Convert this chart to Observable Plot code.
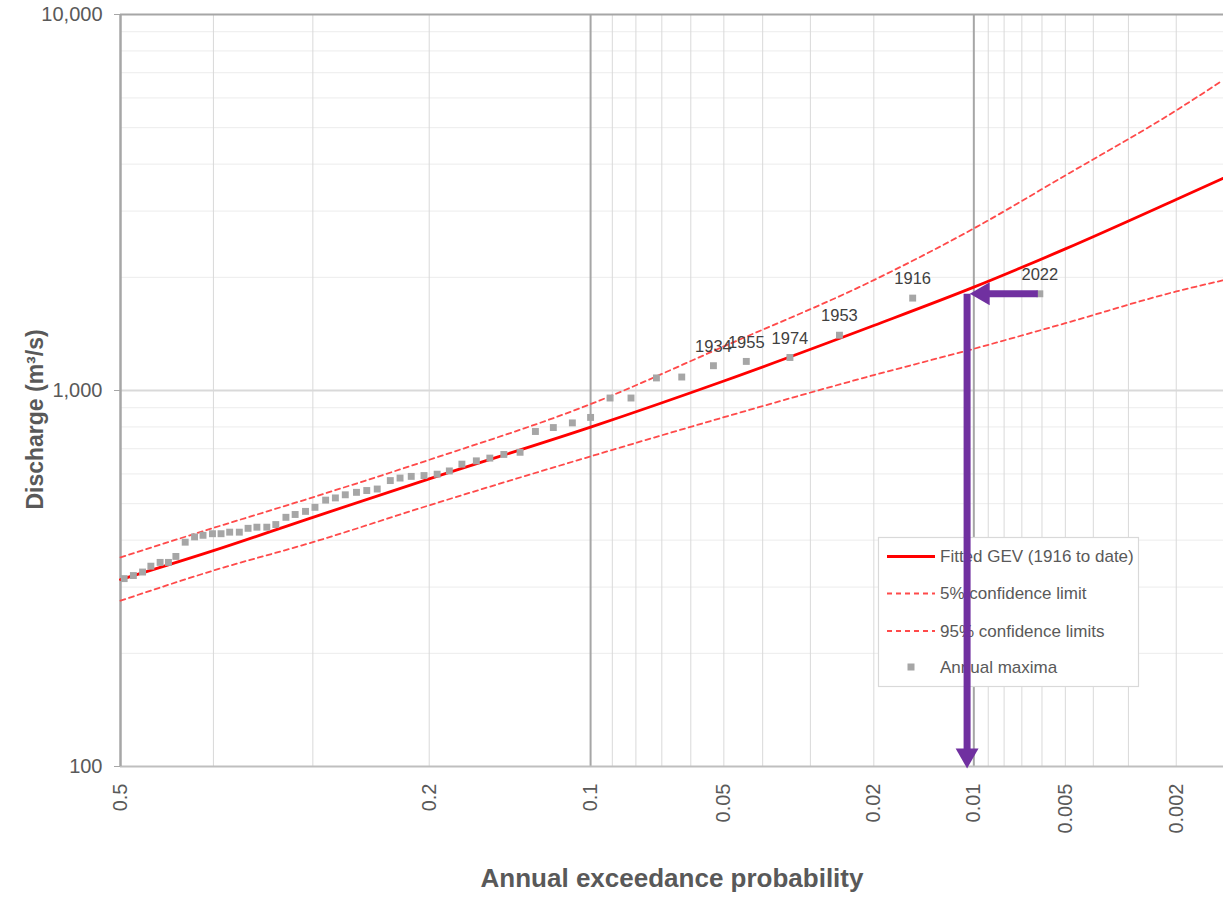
<!DOCTYPE html>
<html>
<head>
<meta charset="utf-8">
<script src="https://cdn.jsdelivr.net/npm/d3@7"></script>
<script src="https://cdn.jsdelivr.net/npm/@observablehq/plot@0.6"></script>
<style>
  html, body { margin: 0; padding: 0; background: #fff; }
  #chart { position: absolute; left: 0; top: 0; }
</style>
</head>
<body>
<div id="chart"></div>
<script>
// ---------- data ----------
// Annual maxima: annual exceedance probability (plotting position) and discharge (m3/s)
const aep = [0.496,0.486,0.476,0.467,0.457,0.448,0.440,0.430,0.420,0.411,0.401,0.392,0.383,0.373,0.364,0.355,0.345,0.336,0.326,0.317,0.307,0.298,0.288,0.279,0.270,0.260,0.251,0.242,0.231,0.223,0.214,0.204,0.194,0.185,0.176,0.166,0.157,0.148,0.138,0.129,0.119,0.109,0.100,0.091,0.082,0.072,0.063,0.053,0.044,0.034,0.025,0.0154,0.0061];
const discharge = [316,322,329,341,349,349,362,395,408,412,416,416,420,420,430,433,433,440,460,468,477,489,511,518,528,536,542,547,576,585,591,594,599,611,637,650,661,676,685,778,797,820,848,955,955,1080,1086,1164,1195,1224,1403,1761,1808];

// Labelled events (the six largest annual maxima, in plotting order)
const labelYears = ["1934","1955","1974","1953","1916","2022"];

// Fitted GEV and confidence limits
const curveAep   = [0.5, 0.4, 0.3, 0.2, 0.1, 0.05, 0.02, 0.01, 0.005, 0.002, 0.00133];
const fittedGEV  = [314, 375, 460, 582, 799, 1060, 1489, 1883, 2380, 3221, 3663];
const upper95    = [360, 431, 520, 654, 920, 1310, 1966, 2698, 3733, 5559, 6676];
const lower5     = [276, 332, 395, 495, 668, 849, 1099, 1291, 1510, 1834, 1962];

// Annotation arrows (AEP / discharge)
const arrowQ = 1808;        // discharge of 2022 event
const arrowFromAep = 0.0061;
const arrowToAep = 0.0103;
const dropAep = 0.0105;
const axisMinQ = 100;

// Axis ticks & grid
const xTickAep = [0.5, 0.2, 0.1, 0.05, 0.02, 0.01, 0.005, 0.002];
const xMinorAep = [0.4, 0.3, 0.2, 0.09, 0.08, 0.07, 0.06, 0.05, 0.04, 0.03, 0.02, 0.009, 0.008, 0.007, 0.006, 0.005, 0.004, 0.003, 0.002];
const xMajorAep = [0.1, 0.01];
const yTicks = [100, 1000, 10000];
const yMinor = [200,300,400,500,600,700,800,900,2000,3000,4000,5000,6000,7000,8000,9000];

const legendItems = ["Fitted GEV (1916 to date)", "5% confidence limit", "95% confidence limits", "Annual maxima"];

// ---------- normal probability axis ----------
function invNorm(p) {
  const a=[-3.969683028665376e+01,2.209460984245205e+02,-2.759285104469687e+02,1.383577518672690e+02,-3.066479806614716e+01,2.506628277459239e+00];
  const b=[-5.447609879822406e+01,1.615858368580409e+02,-1.556989798598866e+02,6.680131188771972e+01,-1.328068155288572e+01];
  const c=[-7.784894002430293e-03,-3.223964580411365e-01,-2.400758277161838e+00,-2.549732539343734e+00,4.374664141464968e+00,2.938163982698783e+00];
  const d=[7.784695709041462e-03,3.224671290700398e-01,2.445134137142996e+00,3.754408661907416e+00];
  const pl = 0.02425, ph = 1 - pl;
  let q, r;
  if (p < pl) { q = Math.sqrt(-2*Math.log(p)); return (((((c[0]*q+c[1])*q+c[2])*q+c[3])*q+c[4])*q+c[5])/((((d[0]*q+d[1])*q+d[2])*q+d[3])*q+1); }
  if (p <= ph) { q = p - 0.5; r = q*q; return (((((a[0]*r+a[1])*r+a[2])*r+a[3])*r+a[4])*r+a[5])*q/(((((b[0]*r+b[1])*r+b[2])*r+b[3])*r+b[4])*r+1); }
  q = Math.sqrt(-2*Math.log(1-p)); return -(((((c[0]*q+c[1])*q+c[2])*q+c[3])*q+c[4])*q+c[5])/((((d[0]*q+d[1])*q+d[2])*q+d[3])*q+1);
}
const zOf = p => -invNorm(p);   // standard normal variate of the non-exceedance probability

// ---------- tables ----------
const points = aep.map((p, i) => ({p, q: discharge[i]}));
const labelled = labelYears.map((year, i) => ({year, ...points[points.length - labelYears.length + i]}));
const curves = curveAep.map((p, i) => ({p, fit: fittedGEV[i], up: upper95[i], lo: lower5[i]}));
const tickLabel = new Map(xTickAep.map(p => [zOf(p), String(p)]));

const font = "'Liberation Sans', Arial, Helvetica, sans-serif";
const textGray = "#595959";
const purple = "#7030a0";
const dashRed = "#ff4a4a";

const chart = Plot.plot({
  width: 1223,
  height: 907,
  marginLeft: 120,
  marginRight: 0,
  marginTop: 14,
  marginBottom: 141,
  style: {fontFamily: font, background: "white", overflow: "visible"},
  x: {type: "linear", domain: [0, 3.007], axis: null},
  y: {type: "log", domain: [100, 10000], axis: null},
  marks: [
    Plot.ruleY(yMinor, {stroke: "#ececec", strokeWidth: 1}),
    Plot.ruleX(xMinorAep, {x: zOf, stroke: "#d9d9d9", strokeWidth: 1}),
    Plot.ruleY([1000], {stroke: "#d9d9d9", strokeWidth: 2}),
    Plot.ruleX(xMajorAep, {x: zOf, stroke: "#a6a6a6", strokeWidth: 2}),
    Plot.ruleY([10000], {stroke: "#a6a6a6", strokeWidth: 2}),
    Plot.ruleY([100], {stroke: "#bfbfbf", strokeWidth: 2}),
    Plot.ruleX([0.5], {x: zOf, stroke: "#a6a6a6", strokeWidth: 2.5}),
    Plot.axisY(yTicks, {tickSize: 6, tickPadding: 12, tickFormat: d3.format(","), fontSize: 20, fill: textGray, stroke: "#a6a6a6", label: null}),
    Plot.axisX(xTickAep.map(zOf), {tickSize: 0, tickPadding: 17, tickRotate: -90, tickFormat: d => tickLabel.get(d), fontSize: 20, fill: textGray, label: null}),
    Plot.line(curves, {x: d => zOf(d.p), y: "lo", stroke: dashRed, strokeWidth: 1.8, strokeDasharray: "5,4", curve: "monotone-x"}),
    Plot.line(curves, {x: d => zOf(d.p), y: "up", stroke: dashRed, strokeWidth: 1.8, strokeDasharray: "5,4", curve: "monotone-x"}),
    Plot.line(curves, {x: d => zOf(d.p), y: "fit", stroke: "#ff0000", strokeWidth: 2.8, curve: "monotone-x"}),
    Plot.dot(points, {x: d => zOf(d.p), y: "q", symbol: "square", r: 3.9, fill: "#a6a6a6", stroke: "none"}),
    Plot.text(labelled, {x: d => zOf(d.p), y: "q", text: "year", dy: -19, fontSize: 16.5, fill: "#404040"}),
    Plot.text(["Annual exceedance probability"], {frameAnchor: "bottom", dy: 120, fontSize: 26, fontWeight: "bold", fill: textGray}),
    Plot.text(["Discharge (m³/s)"], {frameAnchor: "left", textAnchor: "middle", dx: -85, dy: 29, rotate: -90, fontSize: 23, fontWeight: "bold", fill: textGray}),
    // annotation arrows (last four marks)
    Plot.arrow([{p1: arrowFromAep, p2: arrowToAep, q: arrowQ}], {x1: d => zOf(d.p1), x2: d => zOf(d.p2), y1: "q", y2: "q", stroke: purple, strokeWidth: 7, headLength: 0, insetStart: 2, insetEnd: 14, strokeLinecap: "butt"}),
    Plot.arrow([{p: dropAep, q1: arrowQ, q2: axisMinQ}], {x1: d => zOf(d.p), x2: d => zOf(d.p), y1: "q1", y2: "q2", stroke: purple, strokeWidth: 7, headLength: 0, insetEnd: 12, strokeLinecap: "butt"}),
    Plot.dot([{p: arrowToAep, q: arrowQ}], {x: d => zOf(d.p), y: "q", symbol: "triangle", r: 8.5, fill: purple, stroke: "none", rotate: -90, dx: 13.3}),
    Plot.dot([{p: dropAep, q: axisMinQ}], {x: d => zOf(d.p), y: "q", symbol: "triangle", r: 8.5, fill: purple, stroke: "none", rotate: 180, dy: -11.3})
  ]
});

document.getElementById("chart").appendChild(chart);

// ---------- legend (inside the plot, beneath the arrows) ----------
const kids = chart.children;
const before = kids[kids.length - 4];
const lg = d3.create("svg:g").attr("font-family", font).attr("font-size", 17).attr("fill", textGray).attr("text-anchor", "start");
lg.append("rect").attr("x", 878.5).attr("y", 537.5).attr("width", 260).attr("height", 149)
  .attr("fill", "white").attr("stroke", "#d9d9d9").attr("stroke-width", 1.2);
const rowsY = [556.5, 593.5, 631, 667];
lg.append("line").attr("x1", 887).attr("x2", 935).attr("y1", rowsY[0]).attr("y2", rowsY[0]).attr("stroke", "#ff0000").attr("stroke-width", 2.8);
[1, 2].forEach(i => lg.append("line").attr("x1", 887).attr("x2", 935).attr("y1", rowsY[i]).attr("y2", rowsY[i])
  .attr("stroke", dashRed).attr("stroke-width", 1.8).attr("stroke-dasharray", "5,4"));
lg.append("rect").attr("x", 907.5).attr("y", rowsY[3] - 3.5).attr("width", 7).attr("height", 7).attr("fill", "#a6a6a6");
legendItems.forEach((t, i) => lg.append("text").attr("x", 940).attr("y", rowsY[i]).attr("dy", "0.35em").text(t));
chart.insertBefore(lg.node(), before);
</script>
</body>
</html>
